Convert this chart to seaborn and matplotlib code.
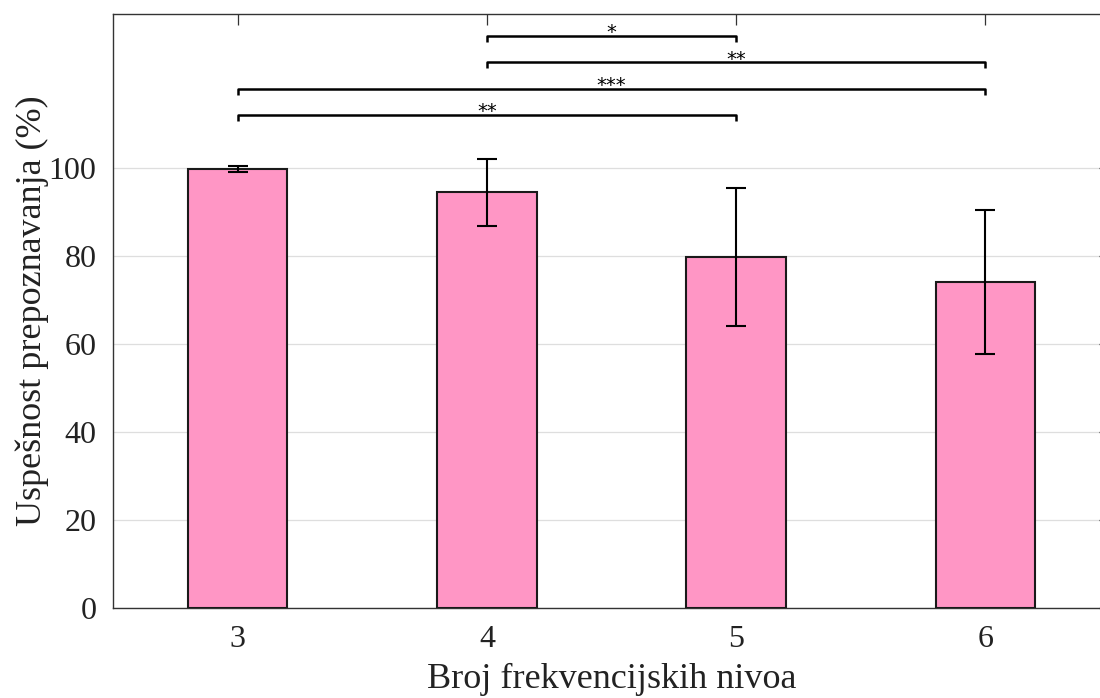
import matplotlib
matplotlib.use("Agg")
import matplotlib.pyplot as plt
import seaborn as sns
import pandas as pd

# broj frekvencijskih nivoa i uspesnost (%)
nivoi = ["3", "4", "5", "6"]
uspesnost = [99.8, 94.5, 79.7, 74.1]
greska = [0.6, 7.6, 15.7, 16.4]

# parovi za znacajnost (indeksi), visina linije, oznaka
parovi = [(0, 2), (0, 3), (1, 3), (1, 2)]
visine = [112, 118, 124, 130]
oznake = ["**", "***", "**", "*"]

sns.set_style("white")
plt.rcParams["font.family"] = ["Liberation Serif", "DejaVu Serif"]

df = pd.DataFrame({"nivo": nivoi, "uspesnost": uspesnost})

fig = plt.figure(figsize=(11, 6.98), dpi=100)
ax = fig.add_axes([113 / 1100, 90 / 698, 997 / 1100, 594 / 698])

sns.barplot(data=df, x="nivo", y="uspesnost", color="#ff96c5", saturation=1,
            width=0.4, edgecolor="#1a1a1a", linewidth=1.5, errorbar=None, ax=ax,
            zorder=3)
ax.errorbar(range(len(nivoi)), uspesnost, yerr=greska, fmt="none", ecolor="black",
            elinewidth=1.5, capsize=7, capthick=1.5, zorder=4)

for (a, b), h, o in zip(parovi, visine, oznake):
    ax.plot([a, a, b, b], [h - 1.3, h, h, h - 1.3], color="black", lw=1.8,
            solid_capstyle="butt", zorder=5)
    ax.text((a + b) / 2, h - 1.4, o, ha="center", va="bottom", fontsize=14,
            family="DejaVu Sans", color="black")

ax.set_xlim(-0.5, 3.5)
ax.set_ylim(0, 135)
ax.set_yticks([0, 20, 40, 60, 80, 100])
ax.yaxis.grid(True, color="#dedede", lw=0.9, zorder=0)
ax.set_axisbelow(True)

for s in ax.spines.values():
    s.set_color("#333333")
    s.set_linewidth(1.0)

ax.tick_params(axis="both", direction="in", length=8, width=0.9, colors="#333333",
               labelsize=23, labelcolor="#222222", top=True, right=True, pad=12)
ax.set_xlabel("Broj frekvencijskih nivoa", fontsize=26, color="#222222")
ax.set_ylabel("Uspešnost prepoznavanja (%)", fontsize=26, color="#222222")
ax.xaxis.set_label_coords(0.5, -0.093)
ax.yaxis.set_label_coords(-0.064, 0.5)

fig.savefig("out.png", dpi=100)
